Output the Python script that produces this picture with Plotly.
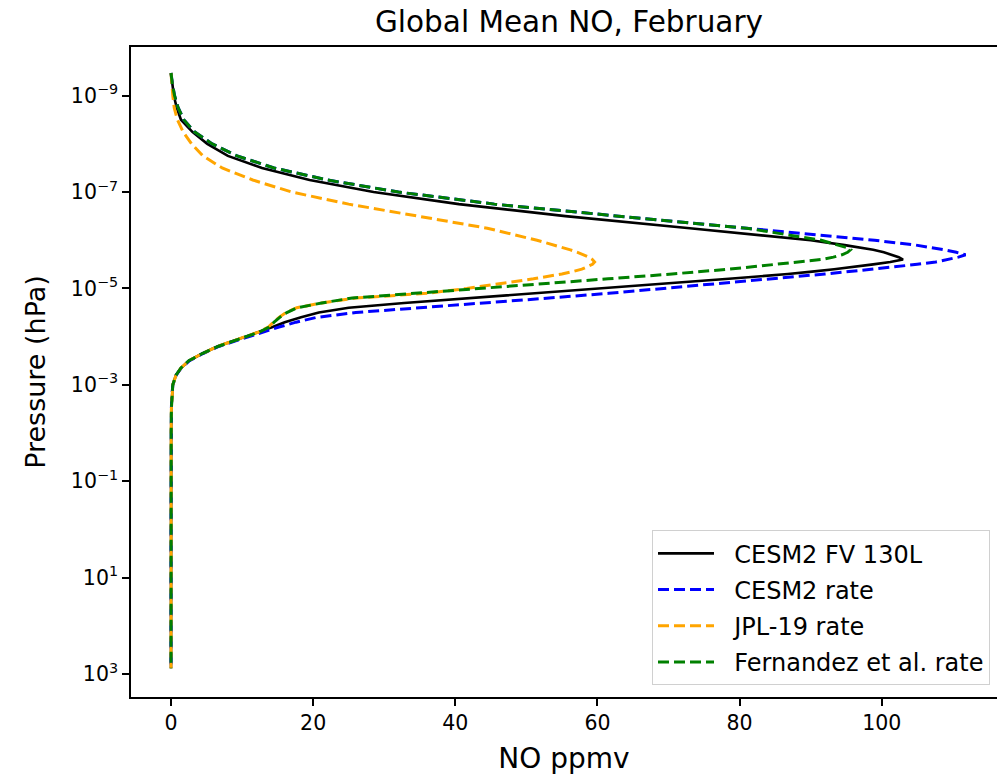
import plotly.graph_objects as go

# Pressure levels (hPa)
pressure_hpa = [3.39e-10, 5.62e-10, 1.0e-9, 1.78e-9, 3.16e-9, 5.62e-9, 1.0e-8, 1.78e-8,
                3.16e-8, 5.62e-8, 1.0e-7, 1.78e-7, 3.16e-7, 5.62e-7, 1.0e-6, 1.26e-6,
                1.41e-6, 1.58e-6, 1.78e-6, 2.0e-6, 2.24e-6, 2.51e-6, 2.82e-6, 3.16e-6,
                3.55e-6, 3.98e-6, 4.47e-6, 5.01e-6, 6.31e-6, 7.94e-6, 1.0e-5, 1.26e-5,
                1.58e-5, 2.0e-5, 2.51e-5, 3.16e-5, 3.98e-5, 5.01e-5, 6.31e-5, 7.94e-5,
                1.0e-4, 1.26e-4, 1.58e-4, 2.24e-4, 3.16e-4, 4.47e-4, 6.31e-4, 1.0e-3,
                1.78e-3, 3.16e-3, 1.0e-2, 0.1, 1.0, 10.0, 100.0, 760.0]

# NO (ppmv) for each run
cesm2_fv_130l = [0.0, 0.15, 0.4, 0.8, 1.4, 3.0, 5.1, 8.0,
                 12.8, 19.5, 28.5, 40.5, 55.5, 73.0, 90.0, 94.8,
                 97.0, 98.8, 100.3, 101.5, 102.4, 103.0, 101.2, 98.8,
                 96.2, 93.3, 90.2, 86.8, 78.5, 69.5, 60.0, 50.8,
                 41.6, 32.8, 25.0, 20.8, 18.3, 16.0, 14.3, 12.5,
                 10.5, 8.5, 6.6, 4.4, 2.5, 1.4, 0.7, 0.25,
                 0.1, 0.05, 0.02, 0.01, 0.0, 0.0, 0.0, 0.0]

cesm2_rate = [0.0, 0.18, 0.5, 1.0, 1.8, 3.3, 5.8, 9.3,
              14.5, 22.0, 32.0, 45.5, 63.0, 81.5, 99.0, 104.8,
              107.0, 108.8, 110.5, 111.8, 110.8, 109.4, 107.6, 105.0,
              102.0, 98.8, 95.4, 92.0, 84.6, 77.0, 69.4, 61.6,
              53.2, 44.2, 35.0, 26.0, 20.5, 17.6, 15.2, 13.2,
              11.0, 8.8, 6.8, 4.5, 2.6, 1.45, 0.72, 0.26,
              0.1, 0.05, 0.02, 0.01, 0.0, 0.0, 0.0, 0.0]

jpl19_rate = [0.0, 0.1, 0.25, 0.45, 0.9, 1.7, 2.9, 4.5,
              7.2, 11.5, 17.0, 25.0, 35.0, 44.5, 51.5, 54.0,
              55.2, 56.2, 57.2, 58.0, 58.8, 59.3, 59.6, 59.3,
              58.6, 57.8, 56.5, 55.0, 51.0, 46.3, 41.6, 36.0,
              26.0, 21.2, 17.7, 16.2, 15.2, 14.4, 13.7, 12.4,
              10.5, 8.5, 6.6, 4.4, 2.5, 1.4, 0.7, 0.25,
              0.1, 0.05, 0.02, 0.01, 0.0, 0.0, 0.0, 0.0]

fernandez_rate = [0.0, 0.18, 0.5, 1.0, 1.8, 3.3, 5.8, 9.3,
                  14.5, 22.0, 32.0, 45.5, 63.0, 81.0, 91.5, 94.0,
                  95.0, 95.6, 95.2, 94.4, 93.2, 91.5, 88.5, 85.2,
                  81.8, 78.5, 74.7, 70.5, 61.5, 52.3, 43.0, 34.0,
                  25.5, 21.2, 17.8, 16.3, 15.3, 14.5, 13.8, 12.5,
                  10.6, 8.6, 6.7, 4.4, 2.5, 1.4, 0.7, 0.25,
                  0.1, 0.05, 0.02, 0.01, 0.0, 0.0, 0.0, 0.0]

series_names = ["CESM2 FV 130L", "CESM2 rate", "JPL-19 rate", "Fernandez et al. rate"]
series_values = [cesm2_fv_130l, cesm2_rate, jpl19_rate, fernandez_rate]
series_colors = ["black", "#0000ff", "#ffa500", "#008000"]
series_dash = ["solid", "11px,5px", "11px,5px", "11px,5px"]
series_width = [2.6, 3.0, 3.0, 3.0]

y_tick_vals = [1e-9, 1e-7, 1e-5, 1e-3, 1e-1, 1e1, 1e3]
y_tick_text = ["10<sup>−9</sup>", "10<sup>−7</sup>", "10<sup>−5</sup>", "10<sup>−3</sup>",
               "10<sup>−1</sup>", "10<sup>1</sup>", "10<sup>3</sup>"]
x_tick_vals = [0, 20, 40, 60, 80, 100]

FONT = "DejaVu Sans"
L, R, T, B = 131, 0, 47, 79
PLOT_W = 997 - L - R
GAP = "\u00a0\u00a0"  # space between legend line sample and its label

fig = go.Figure()
for i, (name, vals) in enumerate(zip(series_names, series_values)):
    fig.add_trace(go.Scatter(
        x=vals, y=pressure_hpa, mode="lines", name=GAP + name,
        legendgroup=f"g{i}",
        line=dict(color=series_colors[i], width=series_width[i], dash=series_dash[i]),
    ))

fig.update_layout(
    width=997, height=776,
    margin=dict(l=L, r=R, t=T, b=B),
    paper_bgcolor="white", plot_bgcolor="white",
    font=dict(family=FONT, color="black", size=20),
    title=dict(text="Global Mean NO, February", x=(569 - L) / PLOT_W, xanchor="center",
               xref="paper", y=1 - 22 / 776, yanchor="middle", yref="container",
               font=dict(family=FONT, size=29.5, color="black")),
    showlegend=True,
    legend=dict(x=(990 - L) / PLOT_W, y=0.018, xanchor="right", yanchor="bottom",
                bgcolor="rgba(255,255,255,0.8)", bordercolor="#d0d0d0", borderwidth=1,
                font=dict(family=FONT, size=24, color="black"),
                traceorder="grouped", tracegroupgap=2, itemwidth=56),
)

fig.update_xaxes(
    range=[-5.63, 116.22], tickvals=x_tick_vals, ticks="outside", ticklen=7, tickwidth=1.6,
    tickcolor="black", showline=True, linecolor="black", linewidth=1.6, mirror=True,
    showgrid=False, zeroline=False, tickfont=dict(family=FONT, size=20.5),
    title=dict(text="NO ppmv", font=dict(family=FONT, size=28), standoff=14),
)
fig.update_yaxes(
    type="log", range=[3.477, -10.01], tickvals=y_tick_vals, ticktext=y_tick_text,
    ticks="outside", ticklen=7, tickwidth=1.6, tickcolor="black",
    showline=True, linecolor="black", linewidth=1.6, mirror=False,
    showgrid=False, zeroline=False, tickfont=dict(family=FONT, size=20.5),
    title=dict(text="Pressure (hPa)", font=dict(family=FONT, size=27), standoff=17),
)

fig.write_html("out.html")
